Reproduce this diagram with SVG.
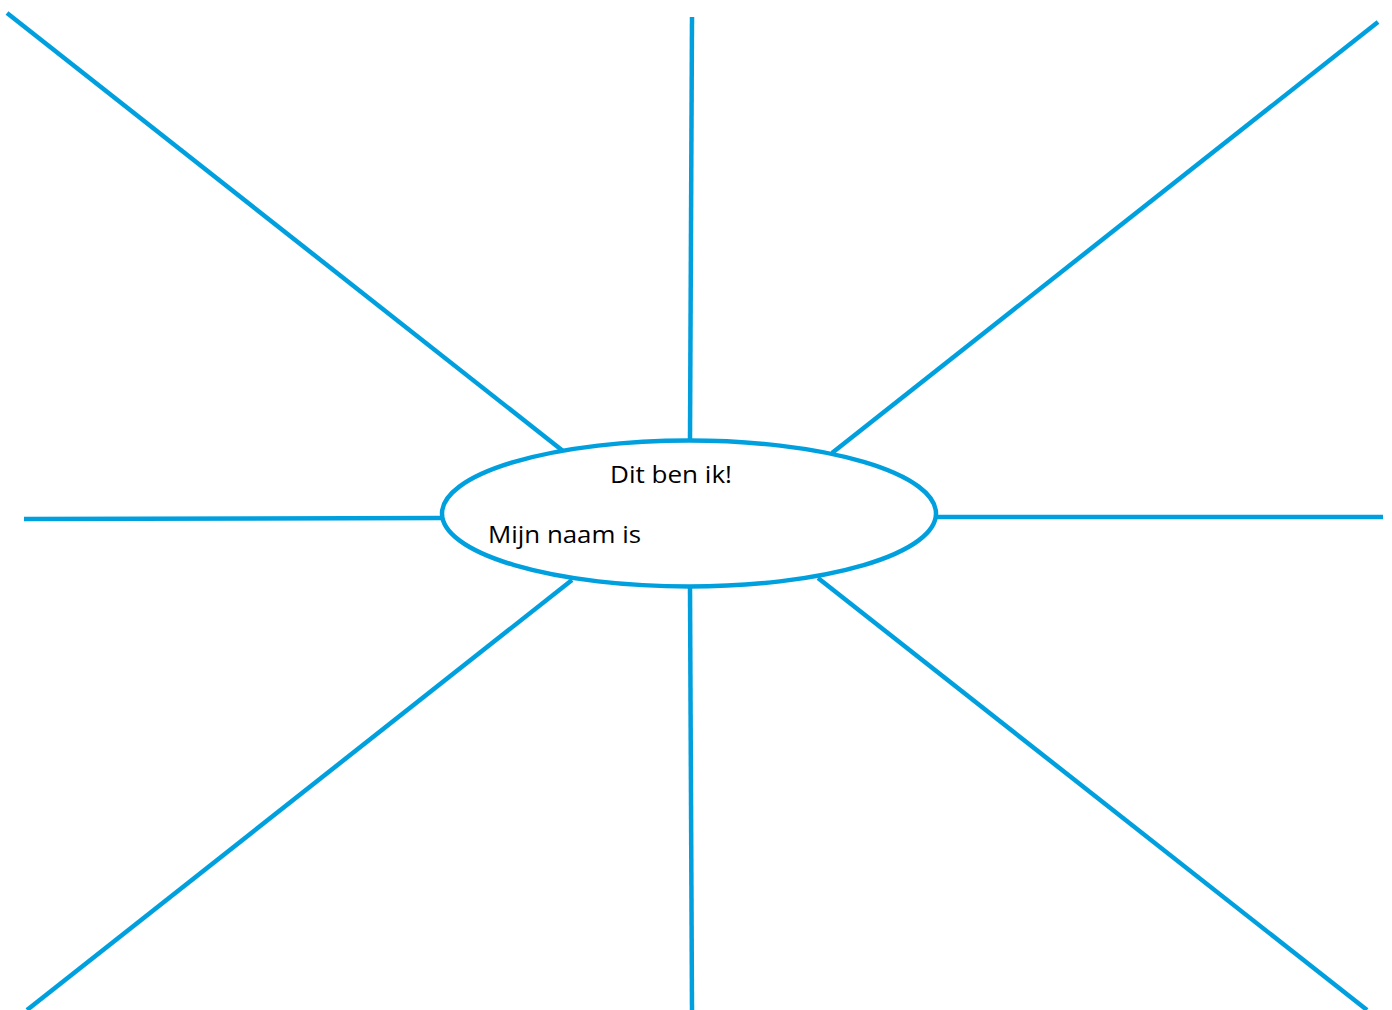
<svg xmlns="http://www.w3.org/2000/svg" width="1392" height="1010" viewBox="0 0 1392 1010">
<style>
.c{stroke:#00A0DE;stroke-width:4.5;fill:none}
.t{font-family:"Open Sans","Noto Sans",sans-serif;font-size:23px;fill:#000}
</style>
<rect width="1392" height="1010" fill="#fff"/>
<g id="connectors">
<line class="c" x1="7" y1="13" x2="563" y2="451"/>
<line class="c" x1="692" y1="17" x2="690" y2="440"/>
<line class="c" x1="1378" y1="22" x2="832" y2="453"/>
<line class="c" x1="24" y1="519" x2="441" y2="518"/>
<line class="c" x1="937" y1="517" x2="1383" y2="517"/>
<line class="c" x1="572" y1="580" x2="27" y2="1010"/>
<line class="c" x1="690" y1="588" x2="692" y2="1010"/>
<line class="c" x1="818" y1="578" x2="1367" y2="1010"/>
</g>
<g id="center">
<ellipse class="c" cx="689" cy="513.5" rx="247" ry="73" fill="#fff" style="fill:#fff"/>
<text class="t" x="610" y="483" textLength="122" lengthAdjust="spacingAndGlyphs">Dit ben ik!</text>
<text class="t" x="488" y="543" textLength="153" lengthAdjust="spacingAndGlyphs">Mijn naam is</text>
</g>
</svg>
